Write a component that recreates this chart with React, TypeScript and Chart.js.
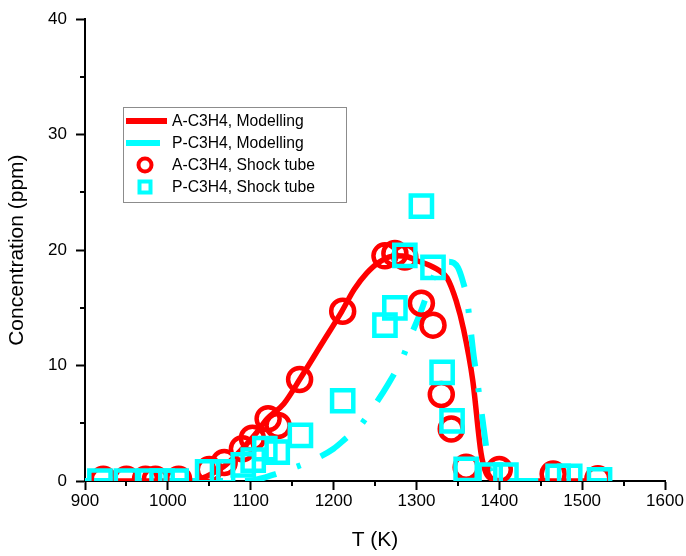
import { useEffect, useRef } from "react";
import { Chart, registerables } from "chart.js";

Chart.register(...registerables);

// ---- Data ----
const modelT_A = [900, 1000, 1030, 1040, 1055, 1070, 1090, 1105, 1120, 1140, 1160, 1185, 1210, 1225, 1240, 1256, 1275, 1290, 1300, 1315, 1330, 1337, 1348, 1357, 1368, 1378, 1384, 1392, 1405, 1530];
const modelA = [0, 0, 0, 0.2, 0.7, 1.4, 2.8, 4.0, 5.4, 6.7, 8.9, 11.8, 14.7, 16.6, 18.0, 19.0, 19.5, 19.4, 19.1, 18.7, 18.1, 17.6, 15.6, 13.1, 8.7, 2.4, 0.7, 0.15, 0, 0];

const modelT_P = [900, 1000, 1090, 1105, 1115, 1130, 1150, 1175, 1200, 1215, 1230, 1248, 1266, 1284, 1294, 1305, 1314, 1322, 1330, 1338, 1345, 1350, 1356, 1361, 1365, 1369, 1373, 1377, 1380, 1386, 1391, 1397, 1530];
const modelP = [0, 0, 0, 0.1, 0.26, 0.6, 1.1, 1.8, 2.8, 3.7, 4.6, 6.4, 8.4, 10.8, 12.7, 14.6, 16.4, 17.9, 18.7, 19.0, 18.9, 18.5, 17.3, 15.8, 13.4, 10.9, 8.9, 6.8, 5.2, 2.1, 0.4, 0, 0];

const shockT_A = [922, 950, 973, 985, 1013, 1050, 1068, 1090, 1102, 1121, 1133, 1159, 1211, 1262, 1274, 1286, 1306, 1320, 1330, 1342, 1360, 1400, 1465, 1519];
const shockA = [0.15, 0.15, 0.15, 0.15, 0.15, 1.0, 1.6, 2.8, 3.7, 5.4, 4.8, 8.8, 14.7, 19.5, 19.7, 19.4, 15.4, 13.5, 7.5, 4.5, 1.2, 1.0, 0.6, 0.2];

const shockT_P = [918, 950, 978, 993, 1010, 1048, 1066, 1091, 1103, 1117, 1132, 1160, 1211, 1262, 1274, 1286, 1306, 1320, 1331, 1343, 1360, 1389, 1408, 1471, 1485, 1521];
const shockP = [0, 0, 0, 0, 0, 0.8, 0.8, 1.4, 1.8, 2.8, 2.5, 3.95, 6.95, 13.5, 15.0, 19.55, 23.8, 18.5, 9.4, 5.2, 1.0, 0.5, 0.5, 0.4, 0.4, 0.1];

const seriesLabels = ["A-C3H4, Modelling", "P-C3H4, Modelling", "A-C3H4, Shock tube", "P-C3H4, Shock tube"];
const xTitle = "T (K)";
const yTitle = "Concentration (ppm)";
const xMin = 900, xMax = 1600, xStep = 100;
const yMin = 0, yMax = 40, yStep = 10;

const RED = "#ff0000";
const CYAN = "#00ffff";
const FONT = 'Arial, "Liberation Sans", sans-serif';

const pts = (xs: number[], ys: number[]) => xs.map((x, i) => ({ x, y: ys[i] }));

const minorTicks = {
  id: "minorTicks",
  afterDraw(chart: any) {
    const { ctx, scales } = chart;
    const xs = scales.x, ys = scales.y;
    ctx.save();
    ctx.strokeStyle = "#000";
    ctx.lineWidth = 2;
    ctx.beginPath();
    for (let v = xMin + xStep / 2; v < xMax; v += xStep) {
      const px = Math.round(xs.getPixelForValue(v));
      ctx.moveTo(px, ys.bottom);
      ctx.lineTo(px, ys.bottom + 5);
    }
    for (let v = yMin + yStep / 2; v < yMax; v += yStep) {
      const py = Math.round(ys.getPixelForValue(v));
      ctx.moveTo(xs.left, py);
      ctx.lineTo(xs.left - 5, py);
    }
    ctx.stroke();
    ctx.restore();
  },
};

const boxLegend = {
  id: "boxLegend",
  afterDraw(chart: any) {
    const { ctx } = chart;
    const ds = chart.data.datasets;
    const bx = 123.5, by = 107.5, bw = 223, bh = 95;
    ctx.save();
    ctx.fillStyle = "#fff";
    ctx.fillRect(bx, by, bw, bh);
    ctx.strokeStyle = "#8c8c8c";
    ctx.lineWidth = 1;
    ctx.strokeRect(bx, by, bw, bh);
    const rows = [121, 143, 165, 187];
    ctx.font = `15.7px ${FONT}`;
    ctx.textBaseline = "middle";
    ctx.textAlign = "left";
    ds.forEach((d: any, i: number) => {
      const y = rows[i];
      ctx.lineCap = "butt";
      if (i === 0) {
        ctx.strokeStyle = d.borderColor;
        ctx.lineWidth = 6;
        ctx.beginPath();
        ctx.moveTo(126, y);
        ctx.lineTo(167, y);
        ctx.stroke();
      } else if (i === 1) {
        ctx.strokeStyle = d.borderColor;
        ctx.lineWidth = 6;
        ctx.beginPath();
        ctx.moveTo(126, y);
        ctx.lineTo(160, y);
        ctx.stroke();
      } else if (i === 2) {
        ctx.strokeStyle = d.pointBorderColor;
        ctx.lineWidth = 4;
        ctx.beginPath();
        ctx.arc(145, y, 6.5, 0, Math.PI * 2);
        ctx.stroke();
      } else {
        ctx.strokeStyle = d.pointBorderColor;
        ctx.lineWidth = 4;
        ctx.strokeRect(145 - 5.5, y - 5.5, 11, 11);
      }
      ctx.fillStyle = "#000";
      ctx.fillText(d.label, 172, y + 0.5);
    });
    ctx.restore();
  },
};

export default function App() {
  const ref = useRef<HTMLCanvasElement | null>(null);
  useEffect(() => {
    if (!ref.current) return;
    const chart = new Chart(ref.current, {
      type: "line",
      data: {
        datasets: [
          {
            label: seriesLabels[0],
            data: pts(modelT_A, modelA),
            borderColor: RED,
            backgroundColor: RED,
            borderWidth: 5.5,
            pointRadius: 0,
            cubicInterpolationMode: "monotone",
            order: 4,
          },
          {
            label: seriesLabels[1],
            data: pts(modelT_P, modelP),
            borderColor: CYAN,
            backgroundColor: CYAN,
            borderWidth: 6,
            borderDash: [32, 22, 4, 22],
            borderCapStyle: "butt",
            pointRadius: 0,
            cubicInterpolationMode: "monotone",
            order: 3,
          },
          {
            label: seriesLabels[2],
            data: pts(shockT_A, shockA),
            showLine: false,
            pointStyle: "circle",
            pointRadius: 11.5,
            pointBorderWidth: 4.5,
            pointBorderColor: RED,
            pointBackgroundColor: "rgba(0,0,0,0)",
            borderColor: RED,
            order: 2,
          },
          {
            label: seriesLabels[3],
            data: pts(shockT_P, shockP),
            showLine: false,
            pointStyle: "rect",
            pointRadius: 15,
            pointBorderWidth: 4.5,
            pointBorderColor: CYAN,
            pointBackgroundColor: "rgba(0,0,0,0)",
            borderColor: CYAN,
            order: 1,
          },
        ],
      } as any,
      options: {
        responsive: false,
        animation: false,
        events: [],
        layout: { padding: { top: 15, right: 21, left: 0, bottom: 0 }, autoPadding: false },
        plugins: { legend: { display: false }, tooltip: { enabled: false } },
        scales: {
          x: {
            type: "linear",
            min: xMin,
            max: xMax,
            afterFit: (s: any) => { s.height = 75; },
            ticks: { stepSize: xStep, color: "#000", font: { family: FONT, size: 17 }, padding: 1, callback: (v: any) => String(v) },
            grid: { drawOnChartArea: false, drawTicks: true, tickLength: 9, tickColor: "#000", tickWidth: 2 },
            border: { display: true, color: "#000", width: 2 },
            title: { display: true, text: xTitle, color: "#000", font: { family: FONT, size: 21 }, padding: { top: 0, bottom: 3 } },
          },
          y: {
            type: "linear",
            min: yMin,
            max: yMax,
            afterFit: (s: any) => { s.width = 85; },
            ticks: { stepSize: yStep, color: "#000", font: { family: FONT, size: 17 }, padding: 9, callback: (v: any) => String(v) },
            grid: { drawOnChartArea: false, drawTicks: true, tickLength: 9, tickColor: "#000", tickWidth: 2 },
            border: { display: true, color: "#000", width: 2 },
            title: { display: true, text: yTitle, color: "#000", font: { family: FONT, size: 21 }, padding: { top: 5, bottom: 0 } },
          },
        },
      } as any,
      plugins: [minorTicks, boxLegend],
    });
    return () => chart.destroy();
  }, []);
  return (
    <div style={{ position: "absolute", left: 0, top: 0, width: 686, height: 556, background: "#fff" }}>
      <canvas ref={ref} width={686} height={556} style={{ display: "block" }} />
    </div>
  );
}
